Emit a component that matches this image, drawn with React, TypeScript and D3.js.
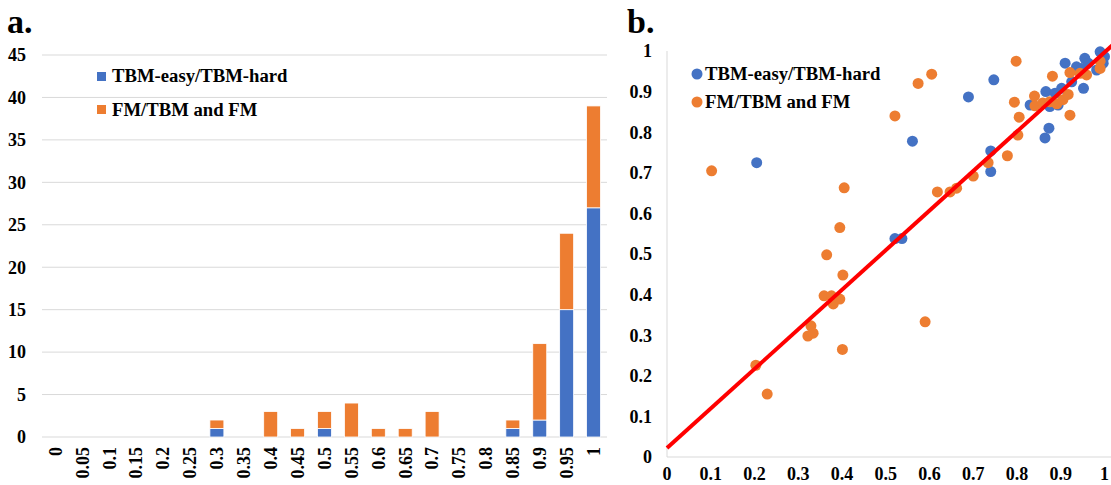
import React from "react";
import * as d3 from "d3";

const categories = ["0","0.05","0.1","0.15","0.2","0.25","0.3","0.35","0.4","0.45","0.5","0.55","0.6","0.65","0.7","0.75","0.8","0.85","0.9","0.95","1"];
const easyHard = [0,0,0,0,0,0,1,0,0,0,1,0,0,0,0,0,0,1,2,15,27];
const fmTbm = [0,0,0,0,0,0,1,0,3,1,2,4,1,1,3,0,0,1,9,9,12];
const barTicks = [0,5,10,15,20,25,30,35,40,45];

const scatterEasy: [number, number][] = [
  [0.205,0.725],[0.521,0.538],[0.537,0.538],[0.561,0.778],[0.689,0.887],[0.740,0.754],[0.740,0.703],
  [0.747,0.929],[0.830,0.867],[0.864,0.786],[0.873,0.810],[0.866,0.900],[0.875,0.863],[0.887,0.896],
  [0.894,0.867],[0.902,0.908],[0.925,0.924],[0.952,0.908],[0.910,0.970],[0.936,0.961],[0.955,0.982],
  [0.963,0.970],[0.948,0.957],[0.982,0.953],[0.990,0.998],[0.997,0.970],[1.0,0.986]
];
const scatterFm: [number, number][] = [
  [0.102,0.705],[0.203,0.226],[0.229,0.155],[0.322,0.298],[0.329,0.323],[0.334,0.305],[0.359,0.397],
  [0.376,0.397],[0.380,0.377],[0.395,0.389],[0.365,0.498],[0.395,0.565],[0.401,0.265],[0.402,0.448],
  [0.405,0.663],[0.521,0.840],[0.574,0.920],[0.590,0.333],[0.605,0.943],[0.618,0.653],[0.647,0.653],
  [0.662,0.662],[0.700,0.692],[0.734,0.725],[0.778,0.742],[0.798,0.975],[0.794,0.874],[0.805,0.837],
  [0.802,0.793],[0.840,0.889],[0.841,0.865],[0.859,0.872],[0.875,0.875],[0.891,0.870],[0.905,0.880],
  [0.881,0.938],[0.917,0.893],[0.921,0.842],[0.921,0.947],[0.944,0.945],[0.959,0.941],[0.990,0.975],
  [0.990,0.957]
];
const scatterTicks = [0,0.1,0.2,0.3,0.4,0.5,0.6,0.7,0.8,0.9,1];
const fitLine: [number, number][] = [[0,0.022],[1.03,1.026]];

const seriesNames = ["TBM-easy/TBM-hard", "FM/TBM and FM"];
const BLUE = "#4472C4";
const ORANGE = "#ED7D31";
const FONT = "'Liberation Serif', 'Times New Roman', serif";

export default function App() {
  // Left bar chart
  const xb = d3.scaleBand<string>().domain(categories).range([42, 607]).paddingInner(0.48).paddingOuter(0.24);
  const yb = d3.scaleLinear().domain([0, 45]).range([437, 55]);
  // Right scatter chart
  const xs = d3.scaleLinear().domain([0, 1]).range([667, 1104.5]);
  const ys = d3.scaleLinear().domain([0, 1]).range([457, 51]);
  const line = d3.line<[number, number]>().x(d => xs(d[0])).y(d => ys(d[1]));
  const fmtTick = (v: number) => d3.format("~g")(v);

  return (
    <svg width={1111} height={485} style={{ position: "absolute", left: 0, top: 0, background: "#fff" }}
      fontFamily={FONT} fontWeight="bold">
      <defs>
        <clipPath id="clipR"><rect x={0} y={0} width={1111} height={485} /></clipPath>
      </defs>
      {/* Panel a */}
      <text x={7} y={33} fontSize={34}>a.</text>
      {barTicks.map(t => (
        <g key={"g" + t}>
          <line x1={42} x2={607} y1={yb(t)} y2={yb(t)} stroke="#D9D9D9" strokeWidth={1} />
          <text x={26} y={yb(t)} dy="0.35em" textAnchor="end" fontSize={18}>{t}</text>
        </g>
      ))}
      {categories.map((c, i) => (
        <g key={"b" + c}>
          {easyHard[i] > 0 && (
            <rect x={xb(c)} width={xb.bandwidth()} y={yb(easyHard[i])} height={yb(0) - yb(easyHard[i])}
              fill={BLUE} stroke="#fff" strokeWidth={0.8} />
          )}
          {fmTbm[i] > 0 && (
            <rect x={xb(c)} width={xb.bandwidth()} y={yb(easyHard[i] + fmTbm[i])}
              height={yb(easyHard[i]) - yb(easyHard[i] + fmTbm[i])}
              fill={ORANGE} stroke="#fff" strokeWidth={0.8} />
          )}
          <text transform={`translate(${(xb(c) as number) + xb.bandwidth() / 2},447) rotate(-90)`}
            dy="0.35em" textAnchor="end" fontSize={18}>{c}</text>
        </g>
      ))}
      <rect x={97} y={72} width={9} height={9} fill={BLUE} />
      <text x={112} y={82} fontSize={18.7}>{seriesNames[0]}</text>
      <rect x={97} y={105} width={9} height={9} fill={ORANGE} />
      <text x={112} y={116} fontSize={18.7}>{seriesNames[1]}</text>

      {/* Panel b */}
      <text x={627} y={33} fontSize={34}>b.</text>
      <line x1={xs(0)} x2={xs(0)} y1={ys(1)} y2={ys(0)} stroke="#D9D9D9" strokeWidth={1} />
      <line x1={xs(0)} x2={1111} y1={ys(0)} y2={ys(0)} stroke="#D9D9D9" strokeWidth={1} />
      {scatterTicks.map(t => (
        <g key={"s" + t}>
          <text x={652} y={ys(t)} dy="0.35em" textAnchor="end" fontSize={18}>{fmtTick(t)}</text>
          <text x={xs(t)} y={480} textAnchor="middle" fontSize={18}>{fmtTick(t)}</text>
        </g>
      ))}
      <g clipPath="url(#clipR)">
        {scatterEasy.map((d, i) => (
          <circle key={"e" + i} cx={xs(d[0])} cy={ys(d[1])} r={5.5} fill={BLUE} />
        ))}
        {scatterFm.map((d, i) => (
          <circle key={"f" + i} cx={xs(d[0])} cy={ys(d[1])} r={5.5} fill={ORANGE} />
        ))}
        <path d={line(fitLine) || ""} stroke="#FF0000" strokeWidth={4} fill="none" />
      </g>
      <circle cx={697} cy={74} r={5.5} fill={BLUE} />
      <text x={705} y={80} fontSize={18.7}>{seriesNames[0]}</text>
      <circle cx={697} cy={102} r={5.5} fill={ORANGE} />
      <text x={705} y={108} fontSize={18.7}>{seriesNames[1]}</text>
    </svg>
  );
}
